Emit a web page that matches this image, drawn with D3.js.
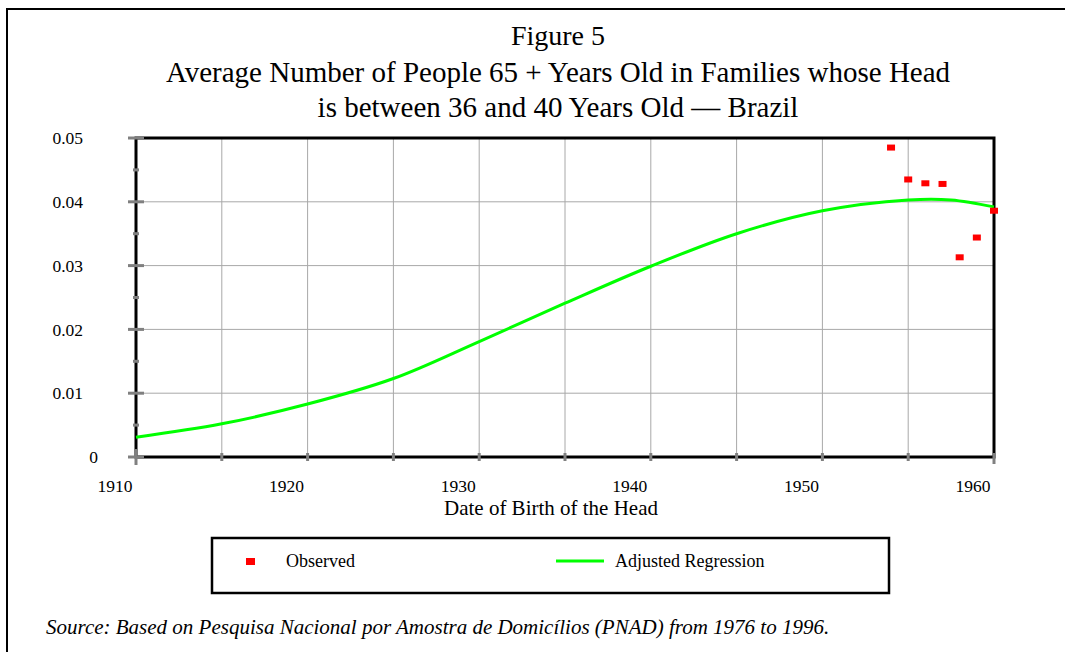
<!DOCTYPE html>
<html>
<head>
<meta charset="utf-8">
<script src="https://cdn.jsdelivr.net/npm/d3@7"></script>
<style>
  body { margin: 0; background: #fff; }
  text { font-family: "Liberation Serif", "Times New Roman", serif; fill: #000; }
</style>
</head>
<body>
<div id="chart"></div>
<script>
// data
const titleLines = ["Figure 5",
  "Average Number of People 65 + Years Old in Families whose Head",
  "is between 36 and 40 Years Old \u2014 Brazil"];
const regYears = [1910, 1915, 1920, 1925, 1930, 1935, 1940, 1945, 1950, 1955, 1957.5, 1960];
const regValues = [0.0031, 0.0052, 0.0083, 0.0123, 0.0181, 0.0241, 0.0299, 0.0350, 0.0386, 0.0403, 0.0403, 0.0392];
const obsYears = [1954, 1955, 1956, 1957, 1958, 1959, 1960];
const obsValues = [0.0485, 0.0435, 0.0429, 0.0428, 0.0313, 0.0344, 0.0386];
const xTicks = [1910, 1920, 1930, 1940, 1950, 1960];
const yTicks = [0, 0.01, 0.02, 0.03, 0.04, 0.05];

const W = 1065, H = 652;
const margin = {top: 138, right: 71, bottom: 195, left: 136},
  width = W - margin.left - margin.right,
  height = H - margin.top - margin.bottom;

let svg = d3.select("#chart").append("svg")
  .attr("width", W)
  .attr("height", H);

svg.append("rect").attr("width", W).attr("height", H).attr("fill", "#fff");

// outer frame (only top and left visible)
svg.append("path")
  .attr("d", "M7," + H + "V9H" + W)
  .attr("fill", "none").attr("stroke", "#000").attr("stroke-width", 2);

// title
svg.append("g").selectAll("text")
  .data(titleLines)
  .enter().append("text")
  .attr("x", 558)
  .attr("y", (d, i) => [45, 82, 117][i])
  .attr("text-anchor", "middle")
  .style("font-size", (d, i) => i == 0 ? "28px" : "29px")
  .text(d => d);

let g = svg.append("g")
  .attr("transform", "translate(" + margin.left + "," + margin.top + ")");

let xScale = d3.scaleLinear().domain([1910, 1960]).range([0, width]);
let yScale = d3.scaleLinear().domain([0, 0.05]).range([height, 0]);

// grid
g.append("g").selectAll("line")
  .data(d3.range(1915, 1960, 5))
  .enter().append("line")
  .attr("x1", d => xScale(d)).attr("x2", d => xScale(d))
  .attr("y1", 0).attr("y2", height)
  .attr("stroke", "#a8a8a8").attr("stroke-width", 1);
g.append("g").selectAll("line")
  .data(yTicks.slice(1, -1))
  .enter().append("line")
  .attr("x1", 0).attr("x2", width)
  .attr("y1", d => yScale(d)).attr("y2", d => yScale(d))
  .attr("stroke", "#a8a8a8").attr("stroke-width", 1);

// frame of plot
g.append("rect")
  .attr("width", width).attr("height", height)
  .attr("fill", "none").attr("stroke", "#000").attr("stroke-width", 3);

// y tick marks
g.append("g").selectAll("line")
  .data(yTicks)
  .enter().append("line")
  .attr("x1", -8).attr("x2", 8)
  .attr("y1", d => yScale(d)).attr("y2", d => yScale(d))
  .attr("stroke", "#808080").attr("stroke-width", 3);
g.append("g").selectAll("line")
  .data(d3.range(0.005, 0.05, 0.01))
  .enter().append("line")
  .attr("x1", -3).attr("x2", 3)
  .attr("y1", d => yScale(d)).attr("y2", d => yScale(d))
  .attr("stroke", "#808080").attr("stroke-width", 3);

// x tick marks
g.append("g").selectAll("line")
  .data(d3.range(1910, 1961, 5))
  .enter().append("line")
  .attr("x1", d => xScale(d)).attr("x2", d => xScale(d))
  .attr("y1", d => height - (d == 1910 ? 8 : 4))
  .attr("y2", d => height + (d == 1910 ? 8 : d == 1960 ? 7 : 4))
  .attr("stroke", "#808080").attr("stroke-width", 3);

// tick labels
g.append("g").selectAll("text")
  .data(yTicks)
  .enter().append("text")
  .attr("x", d => d == 0 ? -38 : -53)
  .attr("y", d => yScale(d))
  .attr("dy", "0.35em")
  .attr("text-anchor", "end")
  .style("font-size", "17.5px")
  .text(d => d == 0 ? "0" : d3.format(".2f")(d));

g.append("g").selectAll("text")
  .data(xTicks)
  .enter().append("text")
  .attr("x", d => xScale(d) - 21)
  .attr("y", height + 35)
  .attr("text-anchor", "middle")
  .style("font-size", "17.5px")
  .text(d => d);

g.append("text")
  .attr("x", 551 - margin.left)
  .attr("y", height + 58)
  .attr("text-anchor", "middle")
  .style("font-size", "21px")
  .text("Date of Birth of the Head");

// regression curve
let line = d3.line()
  .x((d, i) => xScale(regYears[i]))
  .y(d => yScale(d))
  .curve(d3.curveCatmullRom);

g.append("path")
  .datum(regValues)
  .attr("d", line)
  .attr("fill", "none")
  .attr("stroke", "#00ff00")
  .attr("stroke-width", 3);

// observed
g.append("g").selectAll("rect")
  .data(obsValues)
  .enter().append("rect")
  .attr("x", (d, i) => xScale(obsYears[i]) - 4)
  .attr("y", d => yScale(d) - 3)
  .attr("width", 8).attr("height", 6)
  .attr("fill", "#ff0000");

// legend
let leg = svg.append("g");
leg.append("rect")
  .attr("x", 212).attr("y", 538).attr("width", 677).attr("height", 55)
  .attr("fill", "#fff").attr("stroke", "#000").attr("stroke-width", 2.5);
leg.append("rect")
  .attr("x", 246).attr("y", 558).attr("width", 9).attr("height", 7)
  .attr("fill", "#ff0000");
leg.append("text")
  .attr("x", 286).attr("y", 567)
  .style("font-size", "18px")
  .text("Observed");
leg.append("line")
  .attr("x1", 556).attr("x2", 604).attr("y1", 561).attr("y2", 561)
  .attr("stroke", "#00ff00").attr("stroke-width", 3);
leg.append("text")
  .attr("x", 615).attr("y", 567)
  .style("font-size", "18px")
  .text("Adjusted Regression");

// source note
svg.append("text")
  .attr("x", 46).attr("y", 634)
  .style("font-size", "21px")
  .style("font-style", "italic")
  .text("Source: Based on Pesquisa Nacional por Amostra de Domic\u00edlios (PNAD) from 1976 to 1996.");
</script>
</body>
</html>
